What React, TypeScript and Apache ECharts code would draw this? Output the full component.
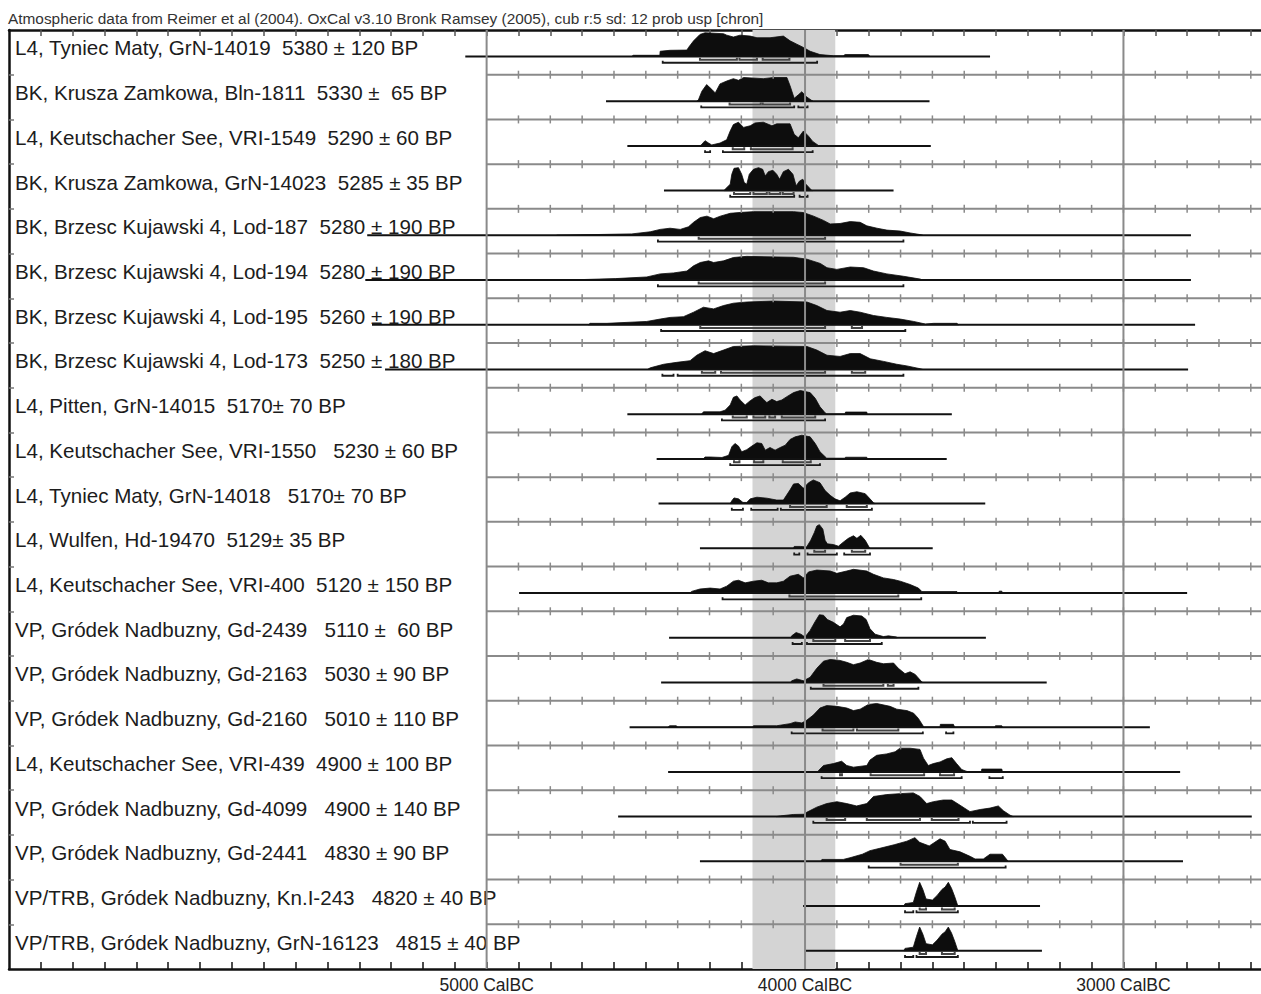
import React, { useEffect, useRef } from "react";
import * as echarts from "echarts";

const TITLE =
  "Atmospheric data from Reimer et al (2004). OxCal v3.10 Bronk Ramsey (2005), cub r:5 sd: 12 prob usp [chron]";

const labels = [
  "L4, Tyniec Maty, GrN-14019  5380 \u00b1 120 BP",
  "BK, Krusza Zamkowa, Bln-1811  5330 \u00b1  65 BP",
  "L4, Keutschacher See, VRI-1549  5290 \u00b1 60 BP",
  "BK, Krusza Zamkowa, GrN-14023  5285 \u00b1 35 BP",
  "BK, Brzesc Kujawski 4, Lod-187  5280 \u00b1 190 BP",
  "BK, Brzesc Kujawski 4, Lod-194  5280 \u00b1 190 BP",
  "BK, Brzesc Kujawski 4, Lod-195  5260 \u00b1 190 BP",
  "BK, Brzesc Kujawski 4, Lod-173  5250 \u00b1 180 BP",
  "L4, Pitten, GrN-14015  5170\u00b1 70 BP",
  "L4, Keutschacher See, VRI-1550   5230 \u00b1 60 BP",
  "L4, Tyniec Maty, GrN-14018   5170\u00b1 70 BP",
  "L4, Wulfen, Hd-19470  5129\u00b1 35 BP",
  "L4, Keutschacher See, VRI-400  5120 \u00b1 150 BP",
  "VP, Gródek Nadbuzny, Gd-2439   5110 \u00b1  60 BP",
  "VP, Gródek Nadbuzny, Gd-2163   5030 \u00b1 90 BP",
  "VP, Gródek Nadbuzny, Gd-2160   5010 \u00b1 110 BP",
  "L4, Keutschacher See, VRI-439  4900 \u00b1 100 BP",
  "VP, Gródek Nadbuzny, Gd-4099   4900 \u00b1 140 BP",
  "VP, Gródek Nadbuzny, Gd-2441   4830 \u00b1 90 BP",
  "VP/TRB, Gródek Nadbuzny, Kn.I-243   4820 \u00b1 40 BP",
  "VP/TRB, Gródek Nadbuzny, GrN-16123   4815 \u00b1 40 BP",
];

// calculated range (years BC) of each distribution's baseline
const rangeStart = [5067, 4625, 4558, 4443, 5375, 5381, 5360, 5319, 4558, 4466, 4460, 4330, 4898, 4427, 4452, 4551, 4430, 4587, 4330, 4006, 3997];
const rangeEnd = [3419, 3609, 3605, 3722, 2788, 2788, 2775, 2797, 3539, 3555, 3434, 3599, 2800, 3432, 3241, 2917, 2822, 2597, 2813, 3262, 3256];

// probability distributions: [year BC, relative probability]
const dist0 = [[4545,0],[4539,0.05],[4456,0.05],[4455,0.22],[4424,0.26],[4371,0.27],[4366,0.38],[4350,0.66],[4330,0.93],[4314,1],[4256,0.96],[4246,0.9],[4225,0.82],[4204,0.9],[4172,0.86],[4151,0.79],[4110,0.79],[4068,0.86],[4047,0.66],[4026,0.52],[4005,0.38],[3984,0.22],[3953,0.08],[3911,0.03],[3880,0.03],[3874,0.08],[3801,0.08],[3796,0]];
const dist1 = [[4340,0],[4335,0.05],[4324,0.42],[4309,0.7],[4293,0.5],[4282,0.35],[4267,0.73],[4246,0.85],[4225,0.95],[4209,0.88],[4193,1],[4131,0.95],[4099,1],[4057,1],[4047,0.65],[4034,0.12],[4021,0.27],[4010,0.4],[3997,0.2],[3979,0.03],[3975,0]];
const dist2 = [[4330,0],[4324,0.07],[4314,0.22],[4303,0.12],[4293,0.04],[4267,0.12],[4246,0.26],[4235,0.63],[4225,0.9],[4209,1],[4193,0.78],[4172,0.85],[4157,0.97],[4131,1],[4104,0.85],[4089,0.93],[4047,0.93],[4034,0.49],[4021,0.34],[4005,0.63],[3989,0.41],[3976,0.19],[3958,0.02],[3955,0]];
const dist3 = [[4255,0],[4251,0.06],[4235,0.27],[4230,0.69],[4223,0.94],[4209,0.97],[4199,0.69],[4191,0.34],[4183,0.27],[4175,0.69],[4162,0.9],[4146,0.97],[4133,0.9],[4125,0.62],[4115,0.8],[4101,0.86],[4089,0.69],[4080,0.48],[4068,0.8],[4052,0.9],[4038,0.69],[4028,0.2],[4017,0.41],[4007,0.48],[3997,0.27],[3979,0.01],[3975,0]];
const dist4 = [[4780,0],[4706,0.02],[4544,0.06],[4486,0.15],[4455,0.25],[4424,0.3],[4392,0.25],[4366,0.36],[4350,0.55],[4329,0.75],[4308,0.81],[4287,0.7],[4266,0.81],[4235,0.93],[4198,0.97],[4162,1],[4036,1],[4005,0.96],[3973,0.81],[3942,0.63],[3921,0.48],[3890,0.5],[3858,0.58],[3827,0.55],[3806,0.4],[3774,0.3],[3743,0.22],[3701,0.18],[3670,0.1],[3638,0.03],[3630,0]];
const dist5 = [[4780,0],[4700,0.02],[4596,0.06],[4497,0.13],[4455,0.26],[4413,0.3],[4371,0.38],[4350,0.6],[4329,0.74],[4303,0.81],[4287,0.74],[4256,0.81],[4225,0.95],[4183,1],[4036,0.96],[3994,0.88],[3952,0.7],[3931,0.52],[3900,0.45],[3858,0.55],[3816,0.52],[3785,0.38],[3743,0.26],[3691,0.16],[3638,0.04],[3630,0]];
const dist6 = [[4680,0],[4675,0.06],[4622,0.06],[4497,0.14],[4455,0.24],[4424,0.31],[4382,0.34],[4350,0.53],[4319,0.74],[4287,0.67],[4256,0.81],[4225,0.91],[4183,0.96],[4099,1],[3994,0.96],[3963,0.81],[3931,0.6],[3890,0.53],[3858,0.6],[3827,0.53],[3785,0.39],[3743,0.31],[3701,0.24],[3659,0.14],[3622,0.03],[3596,0.06],[3523,0.06],[3518,0]];
const dist7 = [[4495,0],[4486,0.07],[4444,0.22],[4403,0.3],[4361,0.37],[4340,0.6],[4314,0.79],[4287,0.67],[4256,0.82],[4225,0.97],[4162,1],[3994,0.97],[3963,0.82],[3931,0.6],[3890,0.55],[3858,0.67],[3827,0.67],[3795,0.45],[3753,0.34],[3712,0.22],[3680,0.15],[3638,0.03],[3630,0]];
const dist8 = [[4325,0],[4319,0.1],[4267,0.1],[4251,0.17],[4235,0.39],[4225,0.71],[4214,0.77],[4204,0.6],[4188,0.39],[4172,0.57],[4157,0.7],[4141,0.77],[4131,0.63],[4120,0.49],[4104,0.63],[4089,0.53],[4073,0.6],[4057,0.74],[4036,0.91],[4015,1],[3984,0.91],[3968,0.67],[3953,0.31],[3937,0.06],[3932,0],[3874,0],[3873,0.09],[3806,0.09],[3805,0]];
const dist9 = [[4320,0],[4314,0.08],[4298,0.08],[4261,0.06],[4240,0.15],[4230,0.51],[4220,0.65],[4209,0.54],[4199,0.3],[4183,0.39],[4167,0.54],[4151,0.68],[4136,0.65],[4125,0.37],[4110,0.48],[4094,0.37],[4078,0.48],[4062,0.58],[4047,0.82],[4031,0.93],[4010,1],[3984,0.93],[3968,0.65],[3953,0.3],[3932,0.03],[3874,0.03],[3873,0.07],[3806,0.07],[3805,0]];
const dist10 = [[4235,0],[4230,0.12],[4223,0.24],[4209,0.2],[4195,0.05],[4183,0.05],[4172,0.2],[4151,0.27],[4120,0.23],[4089,0.15],[4068,0.15],[4047,0.58],[4036,0.83],[4021,0.85],[4005,0.65],[3989,0.88],[3974,1],[3953,0.88],[3937,0.55],[3921,0.35],[3906,0.2],[3890,0.12],[3874,0.27],[3858,0.45],[3837,0.5],[3811,0.42],[3796,0.2],[3785,0.04],[3780,0]];
const dist11 = [[4036,0],[4034,0.08],[4015,0.08],[3995,0.06],[3982,0.34],[3971,0.66],[3963,0.94],[3955,1],[3944,0.81],[3937,0.34],[3930,0.19],[3911,0.16],[3895,0.09],[3879,0.27],[3864,0.42],[3848,0.53],[3837,0.42],[3825,0.55],[3811,0.34],[3798,0.03],[3795,0]];
const dist12 = [[4362,0],[4356,0.07],[4330,0.17],[4298,0.21],[4267,0.17],[4246,0.29],[4225,0.5],[4209,0.54],[4188,0.43],[4162,0.5],[4136,0.54],[4115,0.43],[4089,0.43],[4068,0.5],[4047,0.71],[4021,0.79],[4005,0.64],[3989,0.89],[3963,0.97],[3921,0.93],[3900,0.83],[3869,0.93],[3848,1],[3806,0.93],[3785,0.79],[3754,0.64],[3722,0.57],[3701,0.5],[3670,0.36],[3644,0.21],[3633,0.06],[3523,0.06],[3520,0],[3392,0],[3390,0.08],[3382,0.08],[3380,0]];
const dist13 = [[4045,0],[4042,0.08],[4028,0.22],[4013,0.15],[4000,0.03],[3984,0.31],[3968,0.69],[3955,0.97],[3942,0.95],[3930,0.77],[3911,0.65],[3890,0.46],[3879,0.58],[3869,0.85],[3848,0.95],[3822,0.92],[3808,0.77],[3796,0.38],[3780,0.15],[3754,0.05],[3738,0.08],[3712,0.03],[3710,0]];
const dist14 = [[4045,0],[4042,0.07],[4026,0.15],[4005,0.07],[3984,0.22],[3963,0.6],[3942,0.9],[3921,0.97],[3890,0.93],[3869,0.85],[3848,0.75],[3827,0.82],[3801,0.97],[3775,0.85],[3754,0.79],[3722,0.82],[3707,0.6],[3686,0.37],[3670,0.45],[3654,0.34],[3633,0.02],[3630,0]];
const dist15 = [[4430,0],[4425,0.06],[4404,0.06],[4400,0],[4165,0],[4162,0.06],[4089,0.06],[4047,0.15],[4031,0.22],[4010,0.18],[3995,0.29],[3974,0.51],[3953,0.81],[3932,0.91],[3900,0.88],[3869,0.81],[3848,0.7],[3827,0.76],[3801,0.96],[3775,1],[3733,0.88],[3712,0.76],[3680,0.7],[3659,0.59],[3644,0.37],[3628,0.03],[3625,0],[3576,0],[3575,0.12],[3534,0.12],[3530,0],[3403,0],[3402,0.06],[3382,0.06],[3380,0]];
const dist16 = [[3962,0],[3958,0.05],[3942,0.27],[3911,0.35],[3885,0.45],[3869,0.27],[3848,0.2],[3806,0.27],[3796,0.5],[3775,0.7],[3743,0.76],[3717,0.85],[3702,1],[3670,1],[3639,0.95],[3628,0.58],[3613,0.27],[3597,0.35],[3576,0.42],[3555,0.55],[3539,0.6],[3524,0.35],[3508,0.1],[3492,0.02],[3490,0],[3446,0],[3445,0.12],[3382,0.12],[3380,0]];
const dist17 = [[4090,0],[4078,0.03],[4037,0.09],[4005,0.1],[3995,0.18],[3963,0.4],[3932,0.55],[3900,0.63],[3869,0.55],[3838,0.45],[3806,0.55],[3785,0.85],[3743,0.93],[3702,0.97],[3660,1],[3639,0.85],[3618,0.55],[3597,0.63],[3566,0.7],[3539,0.7],[3513,0.48],[3482,0.21],[3450,0.3],[3419,0.36],[3393,0.45],[3377,0.25],[3356,0.06],[3346,0]];
const dist18 = [[3950,0],[3947,0.08],[3880,0.08],[3859,0.15],[3820,0.3],[3796,0.45],[3765,0.55],[3720,0.7],[3680,0.85],[3655,1],[3640,0.8],[3610,0.65],[3576,0.95],[3560,0.85],[3545,0.5],[3513,0.4],[3480,0.2],[3466,0.1],[3440,0.1],[3419,0.3],[3380,0.3],[3362,0]];
const dist19 = [[3690,0],[3686,0.1],[3660,0.15],[3650,0.6],[3640,1],[3630,0.7],[3620,0.3],[3600,0.25],[3585,0.45],[3570,0.7],[3560,0.8],[3550,1],[3540,0.75],[3530,0.4],[3520,0]];
const dist20 = [[3690,0],[3686,0.1],[3660,0.15],[3650,0.6],[3640,1],[3630,0.7],[3620,0.3],[3600,0.25],[3585,0.45],[3570,0.7],[3560,0.8],[3550,1],[3540,0.75],[3530,0.4],[3520,0]];

const dists = [dist0, dist1, dist2, dist3, dist4, dist5, dist6, dist7, dist8, dist9, dist10, dist11, dist12, dist13, dist14, dist15, dist16, dist17, dist18, dist19, dist20];

// 68.2% (1 sigma) and 95.4% (2 sigma) ranges, years BC
const sigma1 = [
  [[4330,4214],[4206,4151],[4133,4049]],
  [[4237,4139],[4133,4047]],
  [[4227,4191],[4170,4039]],
  [[4223,4172],[4162,4120],[4112,4078],[4070,4036]],
  [[4334,3937]],
  [[4334,3937]],
  [[4329,3937],[3853,3821]],
  [[4324,4282],[4264,3937],[3853,3811]],
  [[4227,4183],[4162,4125],[4112,4094],[4073,3968]],
  [[4223,4206],[4160,4131],[4070,3982]],
  [[4047,3932],[3869,3806]],
  [[3971,3937],[3853,3811]],
  [[4049,3707]],
  [[3974,3905],[3874,3796]],
  [[3942,3754],[3740,3722]],
  [[3945,3848],[3837,3707]],
  [[3890,3884],[3794,3626],[3576,3532]],
  [[3932,3874],[3806,3639],[3602,3518]],
  [[3700,3520]],
  [[3640,3620],[3570,3530]],
  [[3640,3620],[3570,3530]],
];
const sigma2 = [
  [[4447,3962]],
  [[4326,4034],[4021,3992]],
  [[4314,4298],[4258,3976]],
  [[4235,4034],[4017,3992]],
  [[4462,3691]],
  [[4462,3691]],
  [[4452,3685]],
  [[4448,4413],[4400,3691]],
  [[4261,3937]],
  [[4235,3953]],
  [[4230,4195],[4169,4086],[4076,3790]],
  [[4034,4018],[3992,3900],[3877,3796]],
  [[4259,3635]],
  [[4039,4010],[3994,3759]],
  [[3982,3644]],
  [[4042,3630],[3557,3534]],
  [[3948,3508],[3421,3379]],
  [[3974,3482],[3473,3367]],
  [[3800,3370]],
  [[3686,3660],[3650,3520]],
  [[3686,3660],[3650,3520]],
];

const bandYears = [4165, 3905];
const gridYears = [5000, 4000, 3000];
const labelYears = [5000, 4000, 3000];
const X_MIN = 2568;
const X_MAX = 6500;
const ROWS = labels.length;

// layout constants (in row units)
const BASE = 0.592;
const AMP = 0.53;
const S1 = 0.075;
const S2 = 0.14;
const CAP = 0.045;
const LBL = 0.4;

const tickYears: number[] = [];
for (let y = 6400; y > X_MIN; y -= 100) tickYears.push(y);
const sepTickYears = tickYears.filter((y) => y < 5000);
const rowBounds: number[] = [];
for (let r = 1; r < ROWS; r++) rowBounds.push(r);

const FONT = "'Liberation Sans', Arial, Helvetica, sans-serif";

export default function App() {
  const ref = useRef<HTMLDivElement>(null);
  useEffect(() => {
    if (!ref.current) return;
    const chart = echarts.init(ref.current, undefined, { renderer: "svg" });

    const bracket = (api: any, s: number, e: number, y: number, color: string, w: number) => {
      const a = api.coord([s, y]);
      const b = api.coord([e, y]);
      const up = api.coord([s, y - CAP])[1];
      return {
        type: "polyline",
        shape: { points: [[a[0], up], a, b, [b[0], up]] },
        style: { stroke: color, lineWidth: w, fill: "none" },
      };
    };

    const option: any = {
      animation: false,
      backgroundColor: "#ffffff",
      title: {
        text: TITLE,
        left: 8,
        top: 11,
        padding: 0,
        textStyle: { fontSize: 15.4, fontWeight: "normal", color: "#333", fontFamily: FONT },
      },
      grid: { left: 9, right: 0, top: 30, bottom: 24, containLabel: false },
      xAxis: [
        {
          type: "value",
          min: X_MIN,
          max: X_MAX,
          inverse: true,
          position: "bottom",
          axisLine: { show: true, onZero: false, lineStyle: { color: "#111", width: 2.5 } },
          axisTick: { show: true, inside: true, length: 7, customValues: tickYears, lineStyle: { color: "#111", width: 1.5 } },
          axisLabel: {
            show: true,
            customValues: labelYears,
            formatter: (v: number) => `${v} CalBC`,
            fontSize: 17.5,
            color: "#222",
            fontFamily: FONT,
            margin: 7,
          },
          splitLine: { show: false },
        },
        {
          type: "value",
          min: X_MIN,
          max: X_MAX,
          inverse: true,
          position: "top",
          axisLine: { show: true, onZero: false, lineStyle: { color: "#111", width: 2.5 } },
          axisTick: { show: true, inside: true, length: 6, customValues: tickYears, lineStyle: { color: "#555", width: 1.5 } },
          axisLabel: { show: false },
          splitLine: { show: false },
        },
      ],
      yAxis: {
        type: "value",
        min: 0,
        max: ROWS,
        inverse: true,
        axisLine: { show: true, onZero: false, lineStyle: { color: "#111", width: 2.5 } },
        axisTick: { show: true, inside: true, length: 5, customValues: rowBounds, lineStyle: { color: "#777", width: 1.5 } },
        axisLabel: { show: false },
        splitLine: { show: false },
      },
      series: [
        {
          type: "custom",
          name: "band",
          z: 1,
          silent: true,
          data: [[4000, 0]],
          renderItem: (_p: any, api: any) => {
            const a = api.coord([bandYears[0], 0]);
            const b = api.coord([bandYears[1], ROWS]);
            return {
              type: "rect",
              shape: { x: a[0], y: a[1], width: b[0] - a[0], height: b[1] - a[1] },
              style: { fill: "#d4d4d4" },
            };
          },
        },
        {
          type: "custom",
          name: "distributions",
          z: 3,
          silent: true,
          data: labels.map((_, i) => [4000, i]),
          renderItem: (params: any, api: any) => {
            const i = params.dataIndex;
            const yb = i + BASE;
            const children: any[] = [];
            const pts = dists[i].map(([yr, p]) => api.coord([yr, yb - p * AMP]));
            children.push({ type: "polygon", shape: { points: pts }, style: { fill: "#0d0d0d", stroke: "#0d0d0d", lineWidth: 0.8 } });
            const a = api.coord([rangeStart[i], yb]);
            const b = api.coord([rangeEnd[i], yb]);
            children.push({ type: "line", shape: { x1: a[0], y1: a[1], x2: b[0], y2: b[1] }, style: { stroke: "#111", lineWidth: 2 } });
            for (const [s, e] of sigma1[i]) children.push(bracket(api, s, e, yb + S1, "#444", 2));
            for (const [s, e] of sigma2[i]) children.push(bracket(api, s, e, yb + S2, "#1a1a1a", 1.8));
            const lp = api.coord([X_MAX, i + LBL]);
            children.push({
              type: "text",
              x: lp[0] + 6,
              y: lp[1],
              style: { text: labels[i], fontSize: 20.6, fontFamily: FONT, fill: "#1c1c1c", verticalAlign: "middle", align: "left" },
            });
            return { type: "group", children };
          },
        },
        {
          type: "custom",
          name: "gridlines",
          z: 4,
          silent: true,
          data: [[4000, 0]],
          renderItem: (_p: any, api: any) => {
            const children: any[] = [];
            const stroke = { stroke: "#8a8a8a", lineWidth: 2 };
            for (const yr of gridYears) {
              const t = api.coord([yr, 0]);
              const b = api.coord([yr, ROWS]);
              children.push({ type: "line", shape: { x1: t[0], y1: t[1], x2: b[0], y2: b[1] }, style: stroke });
            }
            for (const r of rowBounds) {
              const a = api.coord([5000, r]);
              const b = api.coord([X_MIN, r]);
              children.push({ type: "line", shape: { x1: a[0], y1: a[1], x2: b[0], y2: b[1] }, style: stroke });
              for (const yr of sepTickYears) {
                const c = api.coord([yr, r]);
                children.push({ type: "line", shape: { x1: c[0], y1: c[1] - 4, x2: c[0], y2: c[1] + 4 }, style: { stroke: "#8a8a8a", lineWidth: 1.5 } });
              }
            }
            return { type: "group", children };
          },
        },
      ],
    };
    chart.setOption(option);
    return () => chart.dispose();
  }, []);
  return (
    <div
      ref={ref}
      style={{ position: "absolute", left: 0, top: 0, width: 1261, height: 994, background: "#fff" }}
    />
  );
}
